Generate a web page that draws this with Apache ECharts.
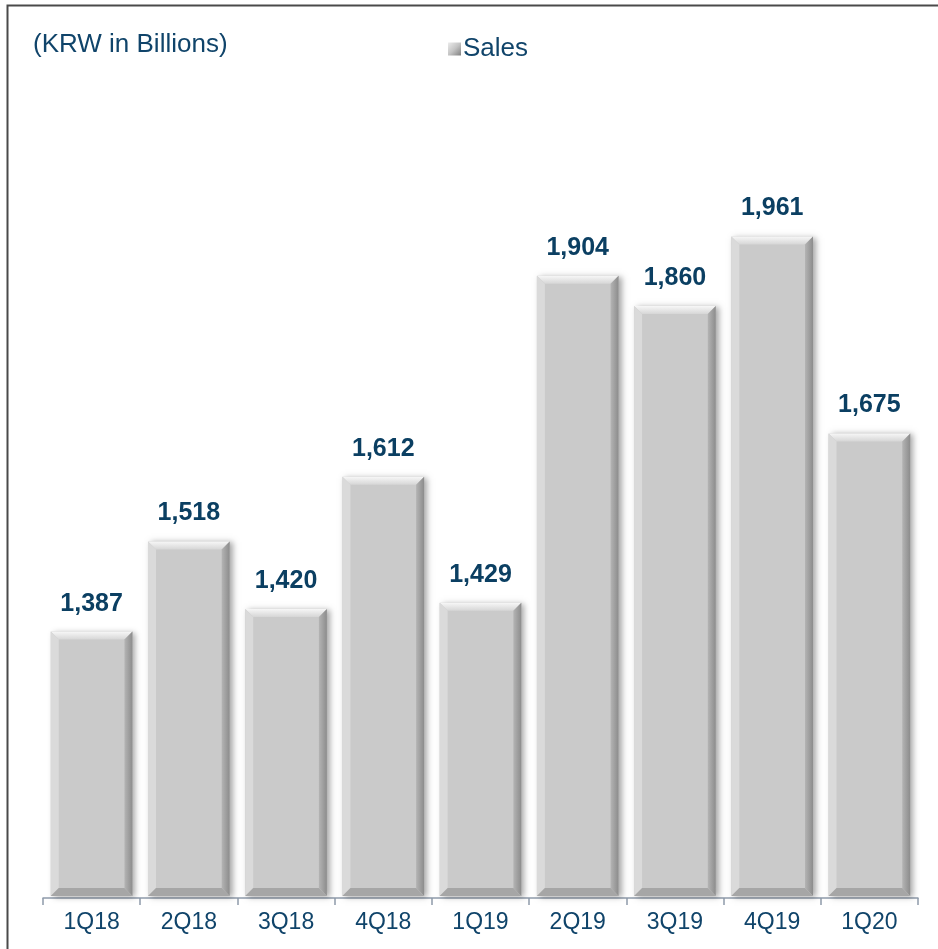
<!DOCTYPE html>
<html>
<head>
<meta charset="utf-8">
<script src="https://cdn.jsdelivr.net/npm/echarts@6/dist/echarts.min.js"></script>
<style>
html,body{margin:0;padding:0;background:#fff;}
#chart{width:938px;height:949px;}
</style>
</head>
<body>
<div id="chart"></div>
<script>
var categories = ['1Q18','2Q18','3Q18','4Q18','1Q19','2Q19','3Q19','4Q19','1Q20'] ;
var salesValues = [1387,1518,1420,1612,1429,1904,1860,1961,1675] ;
var axisMin = 1000, axisMax = 2200 ;

var textBlue = '#10446a' ;
var fontName = '"Liberation Sans", Arial, sans-serif' ;

function fmt(v){
	return String(v).replace(/\B(?=(\d{3})+(?!\d))/g, ',') ;
}

// bevelled bar, like the office chart style
function renderBevelBar(params, api){
	var idx = api.value(0) ;
	var val = api.value(1) ;
	var top = api.coord([idx, val]) ;
	var base = api.coord([idx, axisMin]) ;
	var bw = api.size([1, 0])[0] * 0.84 ;
	var l = top[0] - bw/2, r = top[0] + bw/2 ;
	var ty = top[1], by = base[1] - 2 ;
	var b = 8 ;
	return {
		type:'group',
		children:[
			{type:'rect', shape:{x:l, y:ty, width:bw, height:by-ty},
				style:{fill:'#cacaca', shadowColor:'rgba(0,0,0,0.35)', shadowBlur:6, shadowOffsetX:3, shadowOffsetY:1}},
			{type:'polygon', shape:{points:[[l,ty],[r,ty],[r-b,ty+b],[l+b,ty+b]]},
				style:{fill:new echarts.graphic.LinearGradient(0,0,0,1,[{offset:0,color:'#f7f7f7'},{offset:1,color:'#d6d6d6'}])}},
			{type:'polygon', shape:{points:[[l,ty],[l+b,ty+b],[l+b,by-b],[l,by]]},
				style:{fill:'#dadada'}},
			{type:'polygon', shape:{points:[[r,ty],[r,by],[r-b,by-b],[r-b,ty+b]]},
				style:{fill:new echarts.graphic.LinearGradient(0,0,1,0,[{offset:0,color:'#b4b4b4'},{offset:1,color:'#8c8c8c'}])}},
			{type:'polygon', shape:{points:[[l,by],[r,by],[r-b,by-b],[l+b,by-b]]},
				style:{fill:'#a6a6a6'}},
			{type:'text', style:{x:top[0], y:ty-28, text:fmt(val), align:'center', verticalAlign:'middle',
				fill:'#0b3f62', font:'bold 25px ' + fontName}}
		]
	} ;
}

var chart = echarts.init(document.getElementById('chart')) ;
var option = {
	animation:false,
	graphic:[
		{type:'rect', shape:{x:7.5, y:5.5, width:960, height:980},
			style:{fill:null, stroke:'#4a4a4a', lineWidth:2}, silent:true},
		{type:'text', left:33, top:32,
			style:{text:'(KRW in Billions)', fill:textBlue, font:'26px ' + fontName}}
	],
	legend:{
		left:443, top:31,
		icon:'rect', itemWidth:13, itemHeight:13, itemGap:10,
		textStyle:{color:textBlue, fontSize:26, fontFamily:fontName, padding:[0,0,0,-3]},
		data:[{name:'Sales', itemStyle:{color:new echarts.graphic.LinearGradient(0,0,1,1,[{offset:0,color:'#ececec'},{offset:0.5,color:'#c4c4c4'},{offset:1,color:'#808080'}])}}]
	},
	grid:{left:43, right:20, top:72, bottom:51, containLabel:false},
	xAxis:{
		type:'category',
		data:categories,
		axisLine:{lineStyle:{color:'#8f9baa', width:1.5}},
		axisTick:{show:true, length:7, lineStyle:{color:'#8f9baa', width:1.5}},
		axisLabel:{color:textBlue, fontSize:23, fontFamily:fontName, margin:13}
	},
	yAxis:{
		type:'value', min:axisMin, max:axisMax, show:false, splitLine:{show:false}
	},
	series:[{
		name:'Sales',
		type:'custom',
		renderItem:renderBevelBar,
		itemStyle:{color:'#bdbdbd'},
		encode:{x:0, y:1},
		data:salesValues.map(function(v, i){ return [i, v] ; })
	}]
} ;
chart.setOption(option) ;
</script>
</body>
</html>
